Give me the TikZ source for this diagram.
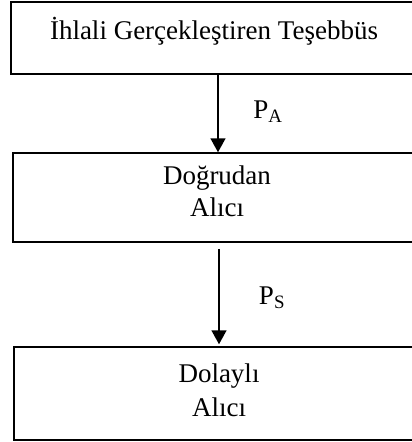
\documentclass[tikz,border=0pt]{standalone}
\usepackage{fontspec}
\setmainfont{Liberation Serif}
\usetikzlibrary{arrows.meta}
\begin{document}
\begin{tikzpicture}[x=1pt,y=-1pt,
  box/.style={draw, line width=1.5pt, inner sep=0pt, align=center},
  txt/.style={inner sep=0pt, align=center, font=\fontsize{27}{32}\selectfont},
  lbl/.style={font=\fontsize{27}{30}\selectfont, inner sep=0pt},
  arr/.style={line width=1.5pt, -{Triangle[width=15pt,length=14pt]}}]
\useasboundingbox (0,0) rectangle (412,442);
\clip (0,0) rectangle (412,442);
\node[box, minimum width=406pt, minimum height=72pt] (b1) at (214,38) {};
\node[txt] (t1) at (214,31) {İhlali Gerçekleştiren Teşebbüs};
\node[box, minimum width=408pt, minimum height=89pt] (b2) at (217,197.5) {};
\node[txt] (t2) at (217,191) {Doğrudan\\Alıcı};
\node[box, minimum width=410pt, minimum height=93pt] (b3) at (219,393.5) {};
\node[txt, font=\fontsize{27}{34}\selectfont] (t3) at (219,390) {Dolaylı\\Alıcı};
\draw[arr] ([xshift=4pt]b1.south) -- ([xshift=1pt]b2.north);
\draw[arr] ([xshift=2pt,yshift=-6pt]b2.south) -- ([yshift=2pt]b3.north);
\node[lbl] (pa) at (268,112) {P\textsubscript{A}};
\node[lbl] (ps) at (272,298) {P\textsubscript{S}};
\end{tikzpicture}
\end{document}
